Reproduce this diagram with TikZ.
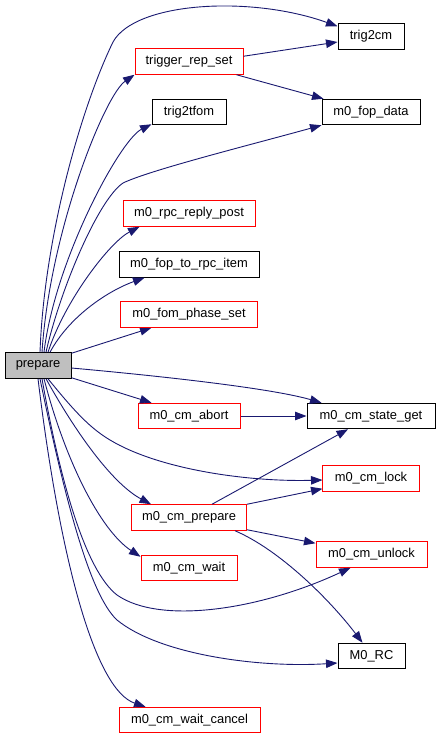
\documentclass[tikz,border=0pt]{standalone}
\usepackage{fontspec}
\setmainfont{Liberation Sans}
\usetikzlibrary{arrows.meta}
\definecolor{edgeblue}{HTML}{191970}
\definecolor{grayfill}{HTML}{BFBFBF}
\definecolor{boxred}{HTML}{FF0000}
\begin{document}
\begin{tikzpicture}[x=1pt,y=-1pt,
  box/.style={line width=1pt, minimum height=25.5pt, inner xsep=8pt, inner ysep=0pt, font=\fontsize{12.9}{15}\selectfont, anchor=center},
  redbox/.style={box, draw=boxred},
  blkbox/.style={box, draw=black},
  redframe/.style={draw=boxred, line width=1pt},
  edge/.style={draw=edgeblue, line width=0.9pt, -{Triangle[length=11.5pt,width=8.5pt]}}]
\useasboundingbox (0,0) rectangle (440,739);
% nodes
\node[blkbox, minimum width=66pt] (t2cm) at (371,36.5) {trig2cm};
\node[redbox, minimum width=108pt] (trs) at (189,61.5) {trigger\_rep\_set};
\node[blkbox, minimum width=74pt] (t2tf) at (189,112) {trig2tfom};
\node[blkbox, minimum width=98pt] (fopdata) at (371,112) {m0\_fop\_data};
\node[redbox, minimum width=132pt] (rpcpost) at (189,213.5) {m0\_rpc\_reply\_post};
\node[blkbox, minimum width=140pt] (foprpc) at (189,264.5) {m0\_fop\_to\_rpc\_item};
\node[box, minimum width=136pt] (fps) at (189,314.5) {m0\_fom\_phase\_set};
\node[blkbox, fill=grayfill, minimum width=66pt] (prep) at (38,365.5) {prepare};
\node[redbox, minimum width=102pt] (abort) at (189,416) {m0\_cm\_abort};
\node[blkbox, minimum width=128pt] (csg) at (371,416) {m0\_cm\_state\_get};
\node[box, minimum width=96pt] (lock) at (371,478.5) {m0\_cm\_lock};
\node[redbox, minimum width=115pt] (mcp) at (189,517.5) {m0\_cm\_prepare};
\node[redbox, minimum width=111pt] (unlock) at (371.5,554.5) {m0\_cm\_unlock};
\node[redbox, minimum width=96pt] (wait) at (189,568) {m0\_cm\_wait};
\node[blkbox, minimum width=67pt] (rc) at (371.5,656) {M0\_RC};
\node[redbox, minimum width=141pt] (cancel) at (189.5,720) {m0\_cm\_wait\_cancel};
% edges
\draw[edge] ([xshift=2pt]prep.north) .. controls (44,240) and (80,110) .. (113,42) .. controls (135,2) and (250,-5) .. ([yshift=-3pt]t2cm.north west);
\draw[edge] ([xshift=4pt]prep.north) .. controls (50,230) and (105,95) .. (trs.south west);
\draw[edge] ([yshift=-8pt]trs.north east) -- ([yshift=-5.5pt]t2cm.west);
\draw[edge] ([xshift=-7pt]trs.south east) -- ([xshift=2pt]fopdata.north west);
\draw[edge] ([xshift=6pt]prep.north) .. controls (55,260) and (120,140) .. ([yshift=1pt]t2tf.south west);
\draw[edge] ([xshift=8pt]prep.north) .. controls (60,290) and (98,200) .. (123,183) .. controls (150,170) and (250,145) .. (fopdata.south west);
\draw[edge] ([xshift=10pt]prep.north) .. controls (65,300) and (110,242) .. ([xshift=17pt]rpcpost.south west);
\draw[edge] ([xshift=12pt]prep.north) .. controls (70,315) and (110,290) .. ([xshift=26pt]foprpc.south west);
\draw[edge] ([yshift=-1pt]prep.north east) -- ([xshift=31pt]fps.south west);
\draw[edge] ([yshift=-2.5pt]prep.east) .. controls (160,376) and (270,388) .. ([xshift=15pt]csg.north west);
\draw[edge] ([yshift=1pt]prep.south east) -- ([xshift=14pt]abort.north west);
\draw[edge] (abort.east) -- (csg.west);
\draw[edge] ([xshift=10pt]prep.south) .. controls (75,412) and (90,428) .. (110,440) .. controls (160,470) and (250,482) .. ([yshift=-1.5pt]lock.west);
\draw[edge] ([xshift=8pt]prep.south) .. controls (80,440) and (115,485) .. ([xshift=20pt]mcp.north west);
\draw[edge] ([xshift=23pt]mcp.north) -- ([xshift=-23pt]csg.south);
\draw[edge] (mcp.north east) -- ([yshift=3pt]lock.south west);
\draw[edge] ([yshift=1pt]mcp.south east) -- ([yshift=-2pt]unlock.north west);
\draw[edge] ([xshift=-12pt]mcp.south east) .. controls (280,550) and (330,600) .. ([xshift=-9pt]rc.north);
\draw[edge] ([xshift=6pt]prep.south) .. controls (65,460) and (100,530) .. ([yshift=-2pt]wait.north west);
\draw[edge] ([xshift=4pt]prep.south) .. controls (60,480) and (85,570) .. (117,595) .. controls (160,625) and (260,610) .. ([xshift=-21pt]unlock.south);
\draw[edge] ([xshift=2pt]prep.south) .. controls (65,500) and (90,595) .. (117,620) .. controls (160,655) and (260,668) .. ([yshift=-7pt]rc.west);
\draw[edge] (prep.south) .. controls (60,560) and (95,690) .. ([xshift=27pt]cancel.north west);
% red frames drawn last
\draw[redframe] (fps.south west) rectangle (fps.north east);
\draw[redframe] (lock.south west) rectangle (lock.north east);
\end{tikzpicture}
\end{document}
